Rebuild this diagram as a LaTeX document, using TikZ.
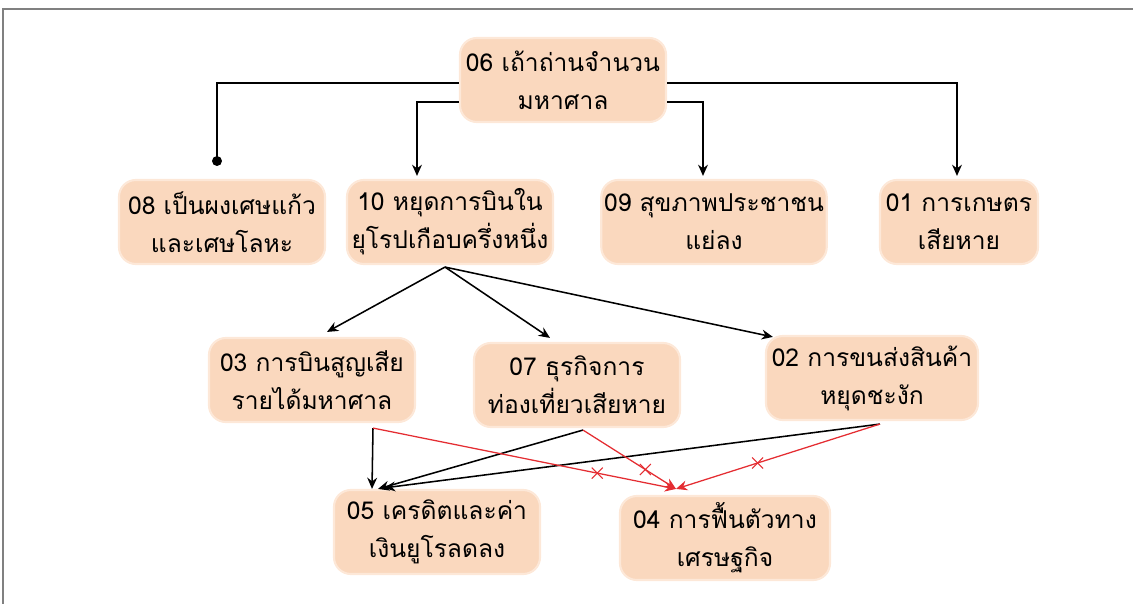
\documentclass[tikz,border=0pt]{standalone}
\usepackage{fontspec}
\usepackage{xcolor}
\usepackage{tikz}
\usetikzlibrary{arrows.meta,positioning,shapes.misc}
\newfontfamily\thaifont[Script=Thai]{Loma}
\definecolor{peach}{RGB}{250,216,190}
\definecolor{peachedge}{RGB}{253,232,216}
\definecolor{xred}{RGB}{228,45,50}

\begin{document}
\begin{tikzpicture}[x=0.025cm, y=-0.025cm,
  every node/.style={font=\thaifont\fontsize{17.5}{27}\selectfont},
  box/.style={draw=peachedge, line width=1.5pt, fill=peach, rounded corners=12pt, align=center, minimum width=5.15cm, minimum height=2.1cm, inner sep=2pt},
  link/.style={-{Stealth[length=8pt,width=7pt]}, line width=1.1pt},
  dotlink/.style={-{Circle[length=7pt]}, line width=1.1pt},
  nolink/.style={-{Stealth[length=8pt,width=7pt]}, line width=0.9pt, draw=xred},
  xmark/.style={cross out, draw=xred, line width=0.8pt, minimum size=7pt, inner sep=0pt}]
  \useasboundingbox (0,0) rectangle (1133,604);
  \draw[gray, line width=1.5pt] (3,604) -- (3,9) -- (1133,9);

  % top
  \node[box] (n06) at (563,80) {06 เถ้าถ่านจำนวน\\มหาศาล};
  % second row
  \node[box] (n08) at (222,222) {08 เป็นผงเศษแก้ว\\และเศษโลหะ};
  \node[box] (n10) at (450,222) {10 หยุดการบินใน\\ยุโรปเกือบครึ่งหนึ่ง};
  \node[box, minimum width=5.2cm] (n09) at (714,222) {09 สุขภาพประชาชน\\แย่ลง};
  \node[box, minimum width=3.95cm] (n01) at (959,222) {01 การเกษตร\\เสียหาย};
  % third row
  \node[box] (n03) at (312,380) {03 การบินสูญเสีย\\รายได้มหาศาล};
  \node[box] (n07) at (577,385) {07 ธุรกิจการ\\ท่องเที่ยวเสียหาย};
  \node[box, minimum width=5.3cm] (n02) at (872,378) {02 การขนส่งสินค้า\\หยุดชะงัก};
  % bottom
  \node[box] (n05) at (437,532) {05 เครดิตและค่า\\เงินยูโรลดลง};
  \node[box, minimum width=5.25cm] (n04) at (725,538) {04 การฟื้นตัวทาง\\เศรษฐกิจ};

  \draw[dotlink] ([shift={(0,3)}]n06.west) -| ([shift={(-5,-13)}]n08.north);
  \draw[link] ([shift={(0,22)}]n06.west) -| ([shift={(-33,-3)}]n10.north);
  \draw[link] ([shift={(0,22)}]n06.east) -| ([shift={(-11,-3)}]n09.north);
  \draw[link] ([shift={(0,3)}]n06.east) -| ([shift={(-2,-3)}]n01.north);

  \coordinate (s10) at ([shift={(-5,2)}]n10.south);
  \draw[link] (s10) -- ([shift={(15,-5)}]n03.north);
  \draw[link] (s10) -- ([shift={(-27,-4)}]n07.north);
  \draw[link] (s10) -- ([shift={(8,2)}]n02.north west);

  \coordinate (s03) at ([shift={(61,5)}]n03.south);
  \coordinate (s07) at ([shift={(6,2)}]n07.south);
  \coordinate (s02) at ([shift={(8,3)}]n02.south);
  \draw[link] (s03) -- ([shift={(-65,0)}]n05.north);
  \draw[link] (s07) -- ([shift={(-59,0)}]n05.north);
  \draw[link] (s02) -- ([shift={(-53,-1)}]n05.north);
  \draw[nolink] (s03) -- node[xmark, pos=0.74] {} ([shift={(-49,-6)}]n04.north);
  \draw[nolink] (s07) -- node[xmark, pos=0.67] {} ([shift={(-49,-6)}]n04.north);
  \draw[nolink] (s02) -- node[xmark, pos=0.6] {} ([shift={(-49,-6)}]n04.north);
\end{tikzpicture}
\end{document}
